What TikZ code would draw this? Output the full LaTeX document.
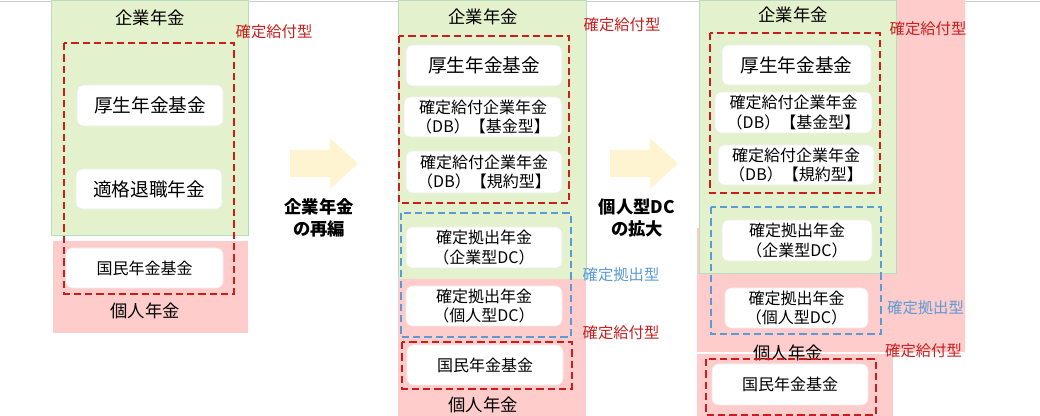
\documentclass[tikz,border=0pt]{standalone}
\usepackage{fontspec}
\setmainfont{Noto Sans CJK JP}
\newlength\pxu
\setlength\pxu{0.75pt}
\definecolor{gfill}{HTML}{E3F1CC}
\definecolor{gline}{HTML}{B9DCC0}
\definecolor{pfill}{HTML}{FFCCCC}
\definecolor{dred}{HTML}{C81E1E}
\definecolor{dblue}{HTML}{5B9BD5}
\definecolor{afill}{HTML}{FFF4D2}
\tikzset{
  greenbg/.style={fill=gfill,draw=gline,line width=0.5pt},
  pinkbg/.style={fill=pfill},
  reddash/.style={draw=dred,line width=2pt,dash pattern=on 5.5pt off 3pt},
  bluedash/.style={draw=dblue,line width=1.6pt,dash pattern=on 5.5pt off 3pt},
  wbox/.style={fill=white,draw=black!7,line width=0.4pt,rounded corners=5pt,inner sep=0pt,align=center,font=\fontsize{12pt}{14.5pt}\selectfont},
  bigtxt/.style={font=\fontsize{14pt}{16pt}\selectfont},
  title/.style={inner sep=0pt,font=\fontsize{13pt}{15pt}\selectfont},
  redlab/.style={inner sep=0pt,text=dred,font=\fontsize{11.5pt}{13pt}\selectfont},
  bluelab/.style={inner sep=0pt,text=dblue,font=\fontsize{11.5pt}{13pt}\selectfont},
  arrlab/.style={inner sep=0pt,align=center,font=\bfseries\fontsize{13pt}{17pt}\selectfont},
  blockarrow/.style={fill=afill}
}
\begin{document}
\begin{tikzpicture}[x=0.75pt,y=-0.75pt]
\useasboundingbox (0,0) rectangle (1040,416);
\fill[white] (0,0) rectangle (1040,416);
\draw[black!20,line width=0.6pt] (0,1) -- (1040,1);

% ---------- panel 1 ----------
\path[greenbg] (51,0) rectangle (248,235);
\path[pinkbg] (53,241) rectangle (248,333);
\node[title] (t1) at (150,18) {企業年金};
\node[redlab] (lab1) at (274,32) {確定給付型};
\node[wbox,bigtxt,minimum width=146\pxu,minimum height=41\pxu] (b11) at (150,105.5) {厚生年金基金};
\node[wbox,bigtxt,minimum width=146\pxu,minimum height=40\pxu] (b12) at (149,189) {適格退職年金};
\node[wbox,minimum width=157\pxu,minimum height=40\pxu] (b13) at (144.5,268) {国民年金基金};
\node[title] (p1) at (145,311) {個人年金};
\path[reddash] (64,43) rectangle (234,294);

% arrow 1
\path[blockarrow] (290,150) -- (330,150) -- (330,138) -- (358,163.5) -- (330,189) -- (330,177) -- (290,177) -- cycle;
\node[arrlab] (a1) at (319,218) {企業年金\\の再編};

% ---------- panel 2 ----------
\path[greenbg] (398,0) rectangle (586,279);
\path[pinkbg] (398,279) rectangle (586,416);
\node[title] (t2) at (483,17) {企業年金};
\node[redlab] (lab2a) at (622,25) {確定給付型};
\node[wbox,bigtxt,minimum width=156\pxu,minimum height=41\pxu] (b21) at (484,65.5) {厚生年金基金};
\node[wbox,minimum width=158\pxu,minimum height=40\pxu] (b22) at (483,117) {確定給付企業年金\\（DB）【基金型】};
\node[wbox,minimum width=156\pxu,minimum height=42\pxu] (b23) at (484,172) {確定給付企業年金\\（DB）【規約型】};
\node[wbox,minimum width=156\pxu,minimum height=41\pxu] (b24) at (484,247.5) {確定拠出年金\\（企業型DC）};
\node[wbox,minimum width=156\pxu,minimum height=40\pxu] (b25) at (484,306) {確定拠出年金\\（個人型DC）};
\node[wbox,minimum width=156\pxu,minimum height=40\pxu] (b26) at (485,365) {国民年金基金};
\node[bluelab] (lab2b) at (621,275) {確定拠出型};
\node[redlab] (lab2c) at (621,333) {確定給付型};
\node[title] (p2) at (483,405) {個人年金};
\path[reddash] (399,36) rectangle (569,203);
\path[bluedash] (401,213) rectangle (571,337);
\path[reddash] (402,342) rectangle (572,389);

% arrow 2
\path[blockarrow] (610,150) -- (650,150) -- (650,138) -- (678,163.5) -- (650,189) -- (650,177) -- (610,177) -- cycle;
\node[arrlab] (a2) at (637,218) {個人型DC\\の拡大};

% ---------- panel 3 ----------
\path[pinkbg] (697,228) -- (697,352) -- (965,352) -- (965,0) -- (896,0) -- (896,228) -- cycle;
\path[pinkbg] (697,354) rectangle (893,416);
\path[greenbg] (699,0) rectangle (896,273);
\node[title] (t3) at (793,15) {企業年金};
\node[redlab] (lab3a) at (928,29) {確定給付型};
\node[wbox,bigtxt,minimum width=149\pxu,minimum height=40\pxu] (b31) at (796.5,65) {厚生年金基金};
\node[wbox,minimum width=157\pxu,minimum height=41\pxu] (b32) at (793.5,112.5) {確定給付企業年金\\（DB）【基金型】};
\node[wbox,minimum width=156\pxu,minimum height=40\pxu] (b33) at (796,165) {確定給付企業年金\\（DB）【規約型】};
\node[wbox,minimum width=150\pxu,minimum height=41\pxu] (b34) at (797,240.5) {確定拠出年金\\（企業型DC）};
\node[wbox,minimum width=143\pxu,minimum height=40\pxu] (b35) at (796.5,308) {確定拠出年金\\（個人型DC）};
\node[wbox,minimum width=156\pxu,minimum height=41\pxu] (b36) at (790,384.5) {国民年金基金};
\node[bluelab] (lab3b) at (925.5,308) {確定拠出型};
\node[redlab] (lab3c) at (923.5,351) {確定給付型};
\node[title] (p3) at (788,353) {個人年金};
\path[reddash] (710,33) rectangle (880,193);
\path[bluedash] (711,207) rectangle (881,334);
\path[reddash] (706,359) rectangle (876,415);
\end{tikzpicture}
\end{document}
